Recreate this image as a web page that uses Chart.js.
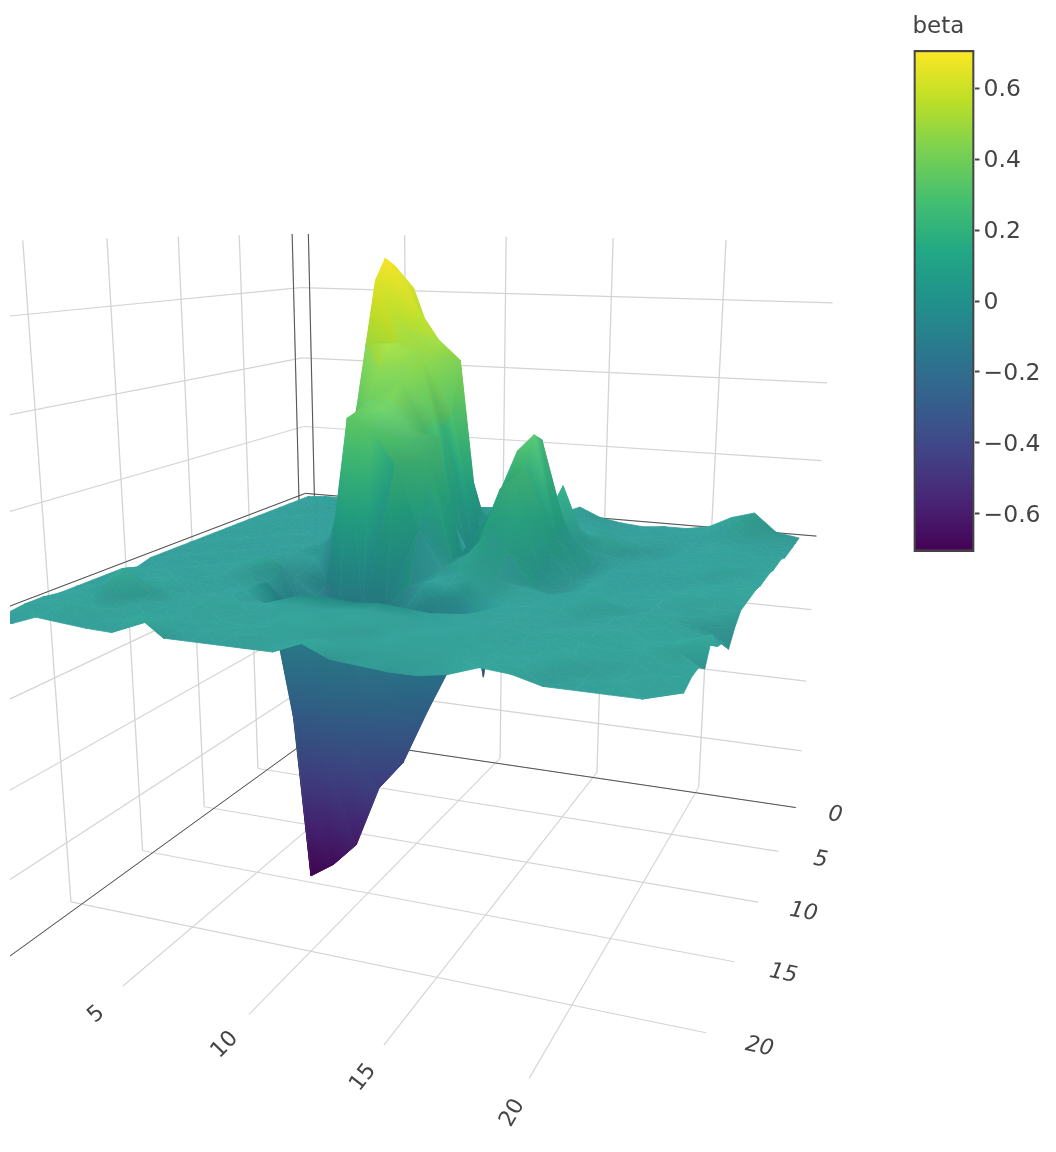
<!DOCTYPE html>
<html>
<head>
<meta charset="utf-8">
<title>beta surface</title>
<script src="https://cdn.jsdelivr.net/npm/chart.js@4"></script>
<style>
  html, body { margin: 0; background: #fff; }
  #wrap { position: relative; width: 1056px; height: 1152px; overflow: hidden; }
  canvas { position: absolute; top: 0; }
  #sceneChart { left: 0; }
  #barChart { left: 900px; }
</style>
</head>
<body>
<div id="wrap">
  <canvas id="sceneChart" width="1056" height="1152"></canvas>
  <canvas id="barChart" width="156" height="1152"></canvas>
</div>
<script>
// Surface values: one row per y = 0..24, one column per x = 0..24
const xValues = [0,1,2,3,4,5,6,7,8,9,10,11,12,13,14,15,16,17,18,19,20,21,22,23,24];
const yValues = [0,1,2,3,4,5,6,7,8,9,10,11,12,13,14,15,16,17,18,19,20,21,22,23,24];
const beta = [
  [0,.005,.005,0,0,0,0,.01,.01,-.005,.015,.02,.01,.01,.035,.01,0,-.005,0,0,.01,.04,.057,.01,0],
  [0,.005,.01,0,-.005,0,0,.02,.03,.02,.01,0,0,0,.02,.01,0,0,0,0,.01,.03,.03,.01,0],
  [0,0,.005,0,0,0,.02,.15,.28,.2,.01,0,0,0,.01,.01,0,0,0,0,0,.01,.01,.005,0],
  [0,.005,0,0,0,0,.05,.62,.47,.3,.02,.0,0,0,.01,.02,0,0,.005,0,0,.005,.005,0,0],
  [0,0,0,0,0,.005,.05,.65,.5,.44,.05,-.02,0,.01,.01,.02,.02,.01,0,0,0,.01,.01,0,0],
  [0,0,.005,0,0,0,.05,.68,.58,.5,.45,-.04,.01,.01,.02,.06,.02,.02,0,-.02,0,.01,.02,.01,.01],
  [0,.005,0,0,0,0,.03,.7,.52,.48,.33,-.01,0,.01,.04,.16,.02,.045,.005,-.01,0,.005,.01,.01,.01],
  [0,0,.005,0,0,0,.02,.65,.5,.47,.3,0,0,.03,.1,.06,.02,.01,0,0,0,.005,.01,.01,.01],
  [0,.005,0,0,.005,0,0,.5,.5,.45,.33,.02,-.01,.08,.2,.18,.06,.01,0,0,0,.01,.03,.01,.015],
  [0,0,0,.005,0,0,0,.35,.45,.42,.3,.12,0,.13,.27,.3,.1,0,0,.005,0,.005,.01,.01,.015],
  [0,0,.005,0,0,.005,0,.2,.38,.38,.3,.3,.02,-.28,.2,.32,.08,0,0,0,0,0,.005,.01,.015],
  [0,.005,0,0,0,0,-.01,.08,.36,.37,.3,.25,.02,.05,.2,.25,.06,0,.005,0,0,0,.01,.015,.02],
  [0,0,0,.005,0,.005,-.02,-.05,.35,.33,.25,.1,.01,.05,.12,.2,.03,-.01,.01,0,.005,.01,.015,.015,.02],
  [0,0,.005,0,0,.01,-.03,-.07,-.12,-.1,-.08,-.02,0,.02,.06,.08,.01,-.03,.01,.005,.005,.01,.03,.015,.02],
  [0,.005,0,0,.005,.03,.012,-.1,-.3,-.28,-.2,-.08,0,.01,.03,.03,.02,.01,.01,.01,.005,.01,.015,.015,.02],
  [-.01,0,0,.005,0,.01,-.01,-.06,-.5,-.45,-.4,-.1,-.05,-.01,.01,.01,.015,.01,.015,.04,.01,.01,.01,.015,0],
  [0,.005,.01,0,.005,0,0,-.03,-.7,-.66,-.6,-.45,-.38,-.25,-.13,-.01,.01,.015,.01,.015,.01,.015,.015,.01,-.03],
  [0,0,.005,.01,.005,0,0,.02,-.3,-.3,-.3,-.25,-.2,-.15,-.07,0,.01,.01,.015,.01,.01,.01,.015,.015,0],
  [0,0,.01,.02,.01,0,.005,0,-.015,.02,.02,.015,.02,.015,.01,.015,.01,.015,.01,.01,.015,.02,.015,.015,.01],
  [0,.005,.05,.03,.015,.01,.015,.005,.01,.015,.01,.015,.02,.015,.015,.01,.015,.015,.015,.02,.015,.015,.02,.03,.05],
  [0,.01,.03,.07,.02,.01,.015,.025,.01,.015,.02,.01,.015,.015,.01,.015,.02,.015,.01,.015,.02,.015,.02,.03,0],
  [.005,.01,.015,.02,.015,.015,.01,.02,.015,.005,.025,.02,.03,.015,.015,.02,.015,.02,.015,.015,.02,.015,.015,.02,.02],
  [.005,.015,.02,.015,.02,.015,.015,.01,.02,.015,.02,.015,.015,0,.02,.015,.02,.015,.02,.015,.035,.015,.01,.015,.02],
  [0,.01,.02,.015,.01,.02,.025,.01,.015,.015,.02,.015,.025,.02,.01,.015,.01,.02,.02,.02,.015,.01,.015,.015,.01],
  [0,0,.02,.015,.01,.008,.05,.01,.01,.01,.01,.01,.035,.01,.005,0,0,.01,.03,.025,.01,.01,.01,.01,.03]
];

const xTicks = [5, 10, 15, 20];
const yTicks = [0, 5, 10, 15, 20];
const zTicks = [-0.6, -0.4, -0.2, 0, 0.2, 0.4, 0.6];
const colorbarTicks = [-0.6, -0.4, -0.2, 0, 0.2, 0.4, 0.6];
const colorRange = [-0.708, 0.708];

// Scene box and the camera that looks at it (world -> picture, homogeneous)
const xRange = [-0.5, 24.65], yRange = [-0.7, 24.6], zRange = [-0.75, 0.75];
const camera = [
  [16.6001, -13.1765, -26.8641, 307.921],
  [-0.876627, -2.76564, -364.268, 496.598],
  [-0.00484068, -0.0127776, -0.0610759, 1]
];
function project(x, y, z) {
  const w = camera[2][0]*x + camera[2][1]*y + camera[2][2]*z + camera[2][3];
  return {
    x: (camera[0][0]*x + camera[0][1]*y + camera[0][2]*z + camera[0][3]) / w,
    y: (camera[1][0]*x + camera[1][1]*y + camera[1][2]*z + camera[1][3]) / w,
    w
  };
}

// Viridis colour stops, evenly spaced
const viridis = [[68,1,84],[72,36,117],[65,68,135],[53,95,141],[42,120,142],[33,145,140],[34,168,132],[68,191,112],[122,209,81],[189,223,38],[253,231,37]];
function viridisAt(z) {
  const t = Math.min(1, Math.max(0, (z - colorRange[0]) / (colorRange[1] - colorRange[0]))) * (viridis.length - 1);
  const i = Math.min(viridis.length - 2, Math.floor(t)), f = t - i;
  return viridis[i].map((c, k) => c + (viridis[i + 1][k] - c) * f);
}

// Light comes from above and a little from the low-x, low-y side, like the plotly surface
const lightDir = [-0.42, -0.38, 0.82];
function vertexLight(ix, iy) {
  const z = beta[iy][ix];
  if (z < -0.12) return { amt: 0.93, spec: 0 }; // underside of the dip, seen from below
  const zAt = (a, b) => beta[Math.max(0, Math.min(24, b))][Math.max(0, Math.min(24, a))];
  const sx = (zAt(ix + 1, iy) - zAt(ix - 1, iy)) / 1.5 * 25 / ((ix > 0 && ix < 24) ? 2 : 1);
  const sy = (zAt(ix, iy + 1) - zAt(ix, iy - 1)) / 1.5 * 25 / ((iy > 0 && iy < 24) ? 2 : 1);
  const n = Math.hypot(sx, sy, 1);
  const d = Math.abs((-sx * lightDir[0] - sy * lightDir[1] + lightDir[2]) / n);
  const floor = z > 0.3 ? 0.97 : 0.88;
  return { amt: Math.max(floor, 0.95 + 0.35 * (d - 0.82)), spec: 22 * Math.pow(1 / n, 1.2) };
}
function litColor(z, amt, spec) {
  return viridisAt(z).map(c => Math.min(255, c * amt + spec));
}
const rgb = c => `rgb(${Math.round(c[0])},${Math.round(c[1])},${Math.round(c[2])})`;

const sceneCanvas = document.getElementById('sceneChart');
const sceneCtx = sceneCanvas.getContext('2d');

// one triangle, colored with a linear gradient along its steepest colour change
function triangleGradient(a, b, c) {
  const lum = v => { const k = litColor(v.z, v.amt, v.spec); return 0.3*k[0] + 0.59*k[1] + 0.11*k[2]; };
  const vs = [a, b, c].map(v => ({ ...v, s: lum(v) })).sort((p, q) => p.s - q.s);
  const [lo, mid, hi] = vs;
  const det = (mid.px - lo.px) * (hi.py - lo.py) - (hi.px - lo.px) * (mid.py - lo.py);
  if (Math.abs(det) < 0.01 || hi.s - lo.s < 0.2) {
    return rgb(litColor((a.z + b.z + c.z) / 3, (a.amt + b.amt + c.amt) / 3, (a.spec + b.spec + c.spec) / 3));
  }
  const gx = ((mid.s - lo.s) * (hi.py - lo.py) - (hi.s - lo.s) * (mid.py - lo.py)) / det;
  const gy = ((hi.s - lo.s) * (mid.px - lo.px) - (mid.s - lo.s) * (hi.px - lo.px)) / det;
  const g2 = gx * gx + gy * gy, ds = (hi.s - lo.s) / g2;
  const grad = sceneCtx.createLinearGradient(lo.px, lo.py, lo.px + gx * ds, lo.py + gy * ds);
  for (let i = 0; i <= 6; i++) {
    const t = i / 6, m = (p, q) => p + (q - p) * t;
    grad.addColorStop(t, rgb(litColor(m(lo.z, hi.z), m(lo.amt, hi.amt), m(lo.spec, hi.spec))));
  }
  return grad;
}

// Build surface triangles, far ones last (Chart.js paints the last dataset first)
const vertices = yValues.map((y, iy) => xValues.map((x, ix) => {
  const p = project(x, y, beta[iy][ix]);
  return { px: p.x, py: p.y, w: p.w, z: beta[iy][ix], ...vertexLight(ix, iy) };
}));
const triangles = [];
for (let iy = 0; iy < 24; iy++) {
  for (let ix = 0; ix < 24; ix++) {
    const a = vertices[iy][ix], b = vertices[iy][ix + 1], c = vertices[iy + 1][ix + 1], d = vertices[iy + 1][ix];
    if (Math.abs(a.z - c.z) <= Math.abs(b.z - d.z)) { triangles.push([a, b, c], [a, c, d]); }
    else { triangles.push([a, b, d], [b, c, d]); }
  }
}
triangles.sort((p, q) => (p[0].w + p[1].w + p[2].w) - (q[0].w + q[1].w + q[2].w));
const surfaceSets = triangles.map(tri => {
  const fillStyle = triangleGradient(tri[0], tri[1], tri[2]);
  return {
    data: [tri[0], tri[1], tri[2], tri[0]].map(v => ({ x: v.px, y: v.py })),
    showLine: true, fill: 'shape', backgroundColor: fillStyle, borderColor: fillStyle,
    borderWidth: 0.8, pointRadius: 0, tension: 0
  };
});

// Grid lines on the two walls and the floor
function gridLine(from, to, color, width) {
  return { data: [project(...from), project(...to)].map(p => ({ x: p.x, y: p.y })), showLine: true, fill: false,
           borderColor: color, borderWidth: width, pointRadius: 0 };
}
const gridGray = '#d4d4d4', zeroDark = '#444';
const [x0, x1] = xRange, [y0, y1] = yRange, [z0, z1] = zRange;
const gridSets = [];
[0].concat(xTicks).forEach(t => {
  gridSets.push(gridLine([t, y0, z0], [t, y0, z1], gridGray, 1.3));
  gridSets.push(gridLine([t, y0, z0], [t, y1, z0], gridGray, 1.1));
});
yTicks.forEach(t => {
  gridSets.push(gridLine([x0, t, z0], [x0, t, z1], gridGray, 1.3));
  gridSets.push(gridLine([x0, t, z0], [x1, t, z0], gridGray, 1.1));
});
zTicks.forEach(t => {
  gridSets.push(gridLine([x0, y0, t], [x1, y0, t], gridGray, 1.2));
  gridSets.push(gridLine([x0, y0, t], [x0, y1, t], gridGray, 1.2));
});
const zeroSets = [
  gridLine([0, y0, z0], [0, y0, z1], zeroDark, 0.9), gridLine([x0, 0, z0], [x0, 0, z1], zeroDark, 0.9),
  gridLine([0, y0, z0], [0, y1, z0], zeroDark, 0.9), gridLine([x0, 0, z0], [x1, 0, z0], zeroDark, 0.9),
  gridLine([x0, y0, 0], [x1, y0, 0], zeroDark, 0.9), gridLine([x0, y0, 0], [x0, y1, 0], zeroDark, 0.9)
];

// Tick labels of the floor axes, turned along the axis direction like plotly does in 3D
const axisLabels = {
  id: 'axisLabels',
  afterDraw(chart) {
    const ctx = chart.ctx;
    ctx.save();
    ctx.fillStyle = '#444';
    ctx.textAlign = 'center';
    ctx.textBaseline = 'middle';
    const put = (text, at, along, font) => {
      const p = project(...at), q = project(...along);
      const xp = chart.scales.x.getPixelForValue(p.x), yp = chart.scales.y.getPixelForValue(p.y);
      ctx.save();
      ctx.translate(xp, yp);
      let ang = Math.atan2(q.y - p.y, q.x - p.x);
      if (ang > Math.PI / 2) ang -= Math.PI;
      if (ang < -Math.PI / 2) ang += Math.PI;
      ctx.rotate(ang);
      ctx.font = font;
      ctx.fillText(text, 0, 0);
      ctx.restore();
    };
    xTicks.forEach(t => put(String(t), [t, 26.2, z0 - 0.013], [t, y0, z0 - 0.013], '22px "DejaVu Sans"'));
    yTicks.forEach(t => put(String(t), [26.45, t + 0.2, z0], [x0, t, z0], 'italic 22px "DejaVu Sans"'));
    ctx.restore();
  }
};

new Chart(sceneCanvas, {
  type: 'scatter',
  data: { datasets: [...surfaceSets, ...zeroSets, ...gridSets] },
  options: {
    responsive: false,
    animation: false,
    events: [],
    layout: { padding: { left: 10 } },
    scales: {
      x: { type: 'linear', min: 10, max: 1056, display: false },
      y: { type: 'linear', min: 0, max: 1152, reverse: true, display: false }
    },
    plugins: { legend: { display: false }, tooltip: { enabled: false } }
  },
  plugins: [axisLabels]
});

// Colorbar
const barTitle = {
  id: 'barTitle',
  afterDraw(chart) {
    const ctx = chart.ctx;
    ctx.save();
    ctx.fillStyle = '#444';
    ctx.font = '23px "DejaVu Sans"';
    ctx.textBaseline = 'middle';
    ctx.fillText('beta', 12.5, 27);
    ctx.restore();
  }
};
new Chart(document.getElementById('barChart'), {
  type: 'bar',
  data: {
    labels: ['beta'],
    datasets: [{
      data: [colorRange],
      barPercentage: 1,
      categoryPercentage: 1,
      borderColor: '#444',
      borderWidth: 2.5,
      borderSkipped: false,
      backgroundColor(c) {
        const area = c.chart.chartArea;
        if (!area) return '#21918c';
        const g = c.chart.ctx.createLinearGradient(0, area.bottom, 0, area.top);
        viridis.forEach((k, i) => g.addColorStop(i / (viridis.length - 1), rgb(k)));
        return g;
      }
    }]
  },
  options: {
    responsive: false,
    animation: false,
    events: [],
    layout: { padding: { left: 13.5, top: 50, bottom: 600 } },
    scales: {
      x: { display: false },
      y: {
        position: 'right',
        min: colorRange[0],
        max: colorRange[1],
        afterFit(s) { s.width = 81.5; },
        afterBuildTicks(s) { s.ticks = colorbarTicks.map(v => ({ value: v })); },
        border: { display: false },
        grid: { drawOnChartArea: false, drawTicks: true, tickLength: 5, tickColor: '#444', tickWidth: 2 },
        ticks: {
          color: '#444',
          padding: 4,
          labelOffset: 2,
          font: { family: '"DejaVu Sans"', size: 23.5 },
          callback: v => (v === 0 ? '0' : (v < 0 ? '\u2212' : '') + Math.abs(v).toFixed(1))
        }
      }
    },
    plugins: { legend: { display: false }, tooltip: { enabled: false } }
  },
  plugins: [barTitle]
});
</script>
</body>
</html>
